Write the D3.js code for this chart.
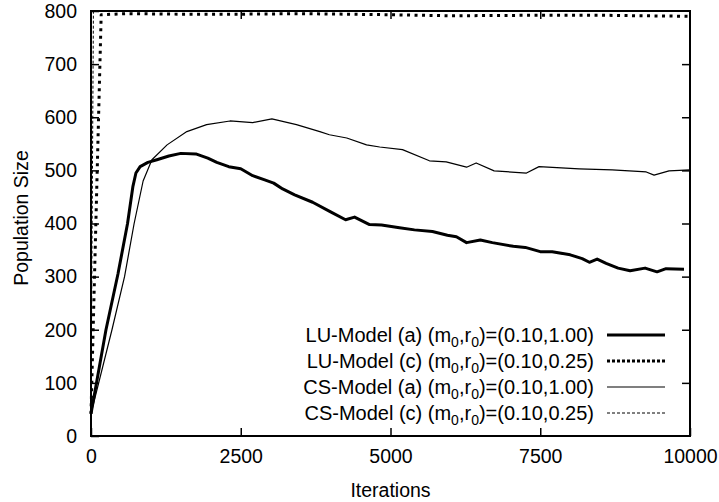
<!DOCTYPE html>
<html>
<head>
<meta charset="utf-8">
<script src="https://cdn.jsdelivr.net/npm/d3@7"></script>
<style>
  body { margin: 0; background: #fff; }
  text { font-family: "Liberation Sans", Arial, sans-serif; fill: #000; }
</style>
</head>
<body>
<div id="chart"></div>
<script>
// Data (iteration, population size)
var luModelA = [[0,42],[250,200],[450,305],[610,400],[700,470],[750,495],[820,507],[950,515],[1100,520],[1300,527],[1500,532],[1750,531],[1950,523],[2100,515],[2300,507],[2500,503],[2700,490],[2900,482],[3050,476],[3200,465],[3400,454],[3700,440],[4000,422],[4250,407],[4400,412],[4650,398],[4850,397],[5150,392],[5400,388],[5700,385],[5950,378],[6100,375],[6270,364],[6500,369],[6700,364],[7050,357],[7250,355],[7500,347],[7700,347],[8000,341],[8200,334],[8320,327],[8450,333],[8600,325],[8800,316],[9000,311],[9250,316],[9450,309],[9600,315],[9900,314]];
var luModelC = [[0,42],[170,793],[600,795],[1500,794],[2500,794],[3500,795],[5000,793],[6000,791],[7500,792],[8500,792],[10000,790]];
var csModelA = [[0,42],[350,200],[560,300],[720,400],[870,480],[1017,520],[1270,548],[1600,573],[1930,586],[2320,593],[2700,590],[3020,597],[3430,586],[3820,573],[3980,567],[4270,561],[4600,548],[4820,544],[5200,539],[5650,518],[5930,516],[6270,506],[6430,514],[6730,499],[7270,495],[7480,507],[8150,503],[8700,501],[9270,497],[9400,491],[9650,499],[10000,501]];
var csModelC = [[0,42],[40,799],[10000,799]];

var xTicks = [0, 2500, 5000, 7500, 10000];
var yTicks = [0, 100, 200, 300, 400, 500, 600, 700, 800];

var seriesNames = ["LU-Model (a)", "LU-Model (c)", "CS-Model (a)", "CS-Model (c)"];
var seriesParams = ["(0.10,1.00)", "(0.10,0.25)", "(0.10,1.00)", "(0.10,0.25)"];

// Define height and width of svg
var svgWidth = 719;
var svgHeight = 502;

var margin = { top: 11, right: 29, bottom: 66, left: 91 };
var width = svgWidth - margin.left - margin.right;
var height = svgHeight - margin.top - margin.bottom;

var svg = d3.select("#chart")
    .append("svg")
    .attr("width", svgWidth)
    .attr("height", svgHeight);

var chartGroup = svg.append("g")
    .attr("transform", `translate(${margin.left}, ${margin.top})`);

var xScale = d3.scaleLinear().domain([0, 10000]).range([0, width]);
var yScale = d3.scaleLinear().domain([0, 800]).range([height, 0]);

// Axes, gnuplot style: ticks pointing inward and mirrored
var tickLen = 8;
var fmt = d3.format("d");
var bottomAxis = d3.axisBottom(xScale).tickValues(xTicks).tickFormat(fmt).tickSizeInner(-tickLen).tickSizeOuter(0).tickPadding(13);
var leftAxis = d3.axisLeft(yScale).tickValues(yTicks).tickFormat(fmt).tickSizeInner(-tickLen).tickSizeOuter(0).tickPadding(14);
var topAxis = d3.axisTop(xScale).tickValues(xTicks.slice(1, -1)).tickSizeInner(-tickLen).tickSizeOuter(0).tickFormat("");
var rightAxis = d3.axisRight(yScale).tickValues(yTicks.slice(1, -1)).tickSizeInner(-tickLen).tickSizeOuter(0).tickFormat("");

function styleAxis(g) {
    g.select(".domain").remove();
    g.selectAll("line").attr("stroke", "#000").attr("stroke-width", 1.5);
    g.selectAll("text").attr("font-size", "19.5px").attr("font-family", "Liberation Sans, Arial, sans-serif").attr("fill", "#000");
}

chartGroup.append("g").attr("transform", `translate(0, ${height})`).call(bottomAxis).call(styleAxis);
chartGroup.append("g").call(leftAxis).call(styleAxis);
chartGroup.append("g").call(topAxis).call(styleAxis);
chartGroup.append("g").attr("transform", `translate(${width}, 0)`).call(rightAxis).call(styleAxis);

// Lines
var line = d3.line()
    .x(d => xScale(d[0]))
    .y(d => yScale(d[1]));

var styles = [
    { w: 3, dash: null },
    { w: 3, dash: "3,4.5" },
    { w: 1.2, dash: null },
    { w: 1, dash: "3,2" }
];
var allSeries = [luModelA, luModelC, csModelA, csModelC];

allSeries.forEach((s, i) => {
    chartGroup.append("path")
        .datum(s)
        .attr("d", line)
        .attr("fill", "none")
        .attr("stroke", "#000")
        .attr("stroke-width", styles[i].w)
        .attr("stroke-linejoin", "round")
        .attr("stroke-dasharray", styles[i].dash);
});

// Border
chartGroup.append("rect")
    .attr("width", width)
    .attr("height", height)
    .attr("fill", "none")
    .attr("stroke", "#000")
    .attr("stroke-width", 2);

// Legend
var legend = chartGroup.append("g");
seriesNames.forEach((name, i) => {
    var y = 335 + i * 26 - margin.top;
    var t = legend.append("text")
        .attr("x", 594 - margin.left)
        .attr("y", y)
        .attr("dy", "0.35em")
        .attr("text-anchor", "end")
        .attr("font-size", "20px");
    t.append("tspan").text(name + " (m");
    t.append("tspan").attr("font-size", "14px").attr("dy", "5").text("0");
    t.append("tspan").attr("dy", "-5").text(",r");
    t.append("tspan").attr("font-size", "14px").attr("dy", "5").text("0");
    t.append("tspan").attr("dy", "-5").text(")=" + seriesParams[i]);

    legend.append("line")
        .attr("x1", 607 - margin.left)
        .attr("x2", 665 - margin.left)
        .attr("y1", y)
        .attr("y2", y)
        .attr("stroke", "#000")
        .attr("stroke-width", styles[i].w)
        .attr("stroke-dasharray", i == 1 ? "3,2" : styles[i].dash);
});

// Axis titles
chartGroup.append("text")
    .attr("x", width / 2)
    .attr("y", height + 61)
    .attr("text-anchor", "middle")
    .attr("font-size", "19.5px")
    .text("Iterations");

chartGroup.append("text")
    .attr("transform", `translate(${-63}, ${207}) rotate(-90)`)
    .attr("text-anchor", "middle")
    .attr("font-size", "19.5px")
    .text("Population Size");
</script>
</body>
</html>
